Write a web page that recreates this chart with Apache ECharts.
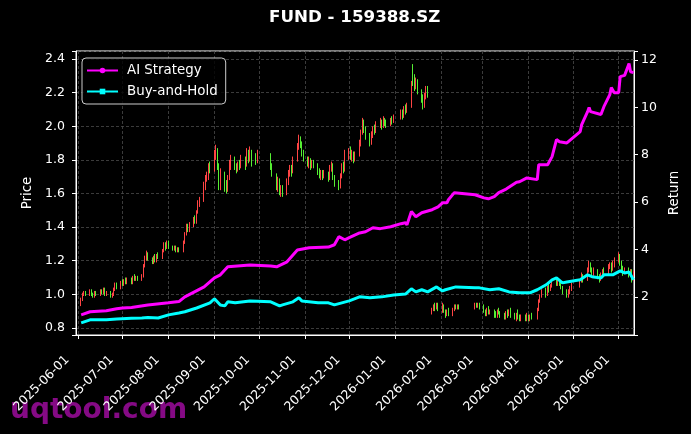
<!DOCTYPE html>
<html>
<head>
<meta charset="utf-8">
<script src="https://cdn.jsdelivr.net/npm/echarts@6/dist/echarts.min.js"></script>
<style>
html, body { margin: 0; padding: 0; background: #000; }
#main { width: 691px; height: 434px; }
</style>
</head>
<body>
<div id="main"></div>
<script>
// exchange holidays (weekdays without trading)
const holidays = ['2025-10-01','2025-10-02','2025-10-03','2025-10-06','2025-10-07','2025-10-08',
    '2026-01-01','2026-01-02','2026-02-16','2026-02-17','2026-02-18','2026-02-19','2026-02-20','2026-02-23',
    '2026-04-06','2026-05-01','2026-05-04','2026-05-05'];

// daily candles [open, close, low, high], one row per trading day
const candles = [
    // 2025-06
    [0.94,0.97,0.93,0.98],[0.97,1.00,0.96,1.01],[1.00,1.01,0.99,1.02],[1.01,1.00,0.99,1.02],
    [1.00,1.02,0.99,1.03],[1.02,1.00,0.99,1.03],[1.00,0.99,0.98,1.01],[0.99,1.01,0.98,1.02],[1.01,1.00,0.99,1.02],
    [1.00,1.02,0.99,1.03],[1.02,1.01,1.00,1.03],[1.01,1.03,1.00,1.04],[1.03,1.00,0.99,1.04],[1.00,1.01,0.99,1.02],
    [1.01,0.99,0.98,1.02],[0.99,1.00,0.98,1.01],[1.00,1.03,0.99,1.04],[1.03,1.05,1.02,1.07],[1.05,1.04,1.03,1.07],
    [1.04,1.07,1.03,1.08],
    // 2025-07
    [1.07,1.06,1.05,1.09],[1.06,1.08,1.05,1.09],[1.08,1.07,1.06,1.10],[1.07,1.09,1.06,1.10],
    [1.09,1.07,1.06,1.10],[1.07,1.10,1.06,1.11],[1.10,1.09,1.08,1.12],[1.09,1.10,1.08,1.11],[1.10,1.09,1.08,1.11],
    [1.09,1.11,1.08,1.12],[1.11,1.17,1.10,1.18],[1.17,1.22,1.16,1.23],[1.22,1.24,1.20,1.26],[1.24,1.21,1.20,1.25],
    [1.21,1.19,1.18,1.22],[1.19,1.22,1.18,1.23],[1.22,1.20,1.19,1.24],[1.20,1.23,1.19,1.24],[1.23,1.22,1.21,1.25],
    [1.22,1.26,1.21,1.27],[1.26,1.29,1.25,1.31],[1.29,1.28,1.26,1.31],[1.28,1.31,1.27,1.32],
    // 2025-08
    [1.31,1.28,1.27,1.32],
    [1.28,1.27,1.26,1.29],[1.27,1.28,1.26,1.29],[1.28,1.26,1.25,1.29],[1.26,1.27,1.25,1.28],[1.27,1.26,1.25,1.28],
    [1.26,1.31,1.25,1.32],[1.31,1.36,1.30,1.37],[1.36,1.40,1.35,1.42],[1.40,1.38,1.37,1.42],[1.38,1.41,1.37,1.43],
    [1.41,1.45,1.40,1.46],[1.45,1.43,1.42,1.47],[1.43,1.49,1.42,1.50],[1.49,1.53,1.48,1.56],[1.53,1.56,1.52,1.58],
    [1.56,1.65,1.55,1.67],[1.65,1.69,1.62,1.71],[1.69,1.70,1.67,1.73],[1.70,1.76,1.68,1.78],[1.76,1.74,1.72,1.79],
    // 2025-09
    [1.74,1.84,1.73,1.86],[1.84,1.86,1.80,1.89],[1.86,1.76,1.74,1.87],[1.76,1.66,1.62,1.78],[1.66,1.72,1.62,1.75],
    [1.72,1.64,1.61,1.73],[1.64,1.62,1.60,1.68],[1.62,1.69,1.61,1.71],[1.69,1.78,1.68,1.80],[1.78,1.81,1.74,1.83],
    [1.81,1.76,1.74,1.82],[1.76,1.74,1.72,1.78],[1.74,1.78,1.73,1.79],[1.78,1.76,1.74,1.80],[1.76,1.80,1.75,1.83],
    [1.80,1.77,1.74,1.82],[1.77,1.84,1.76,1.87],[1.84,1.80,1.78,1.86],[1.80,1.85,1.79,1.88],[1.85,1.81,1.76,1.86],
    [1.81,1.79,1.77,1.84],[1.79,1.83,1.78,1.86],
    // 2025-10
    [1.83,1.76,1.74,1.84],[1.76,1.71,1.70,1.78],
    [1.71,1.64,1.62,1.72],[1.64,1.68,1.61,1.70],[1.68,1.61,1.59,1.69],[1.61,1.63,1.58,1.65],[1.63,1.60,1.58,1.65],
    [1.60,1.67,1.59,1.69],[1.67,1.72,1.65,1.74],[1.72,1.75,1.70,1.77],[1.75,1.73,1.70,1.77],[1.73,1.80,1.72,1.82],
    [1.80,1.88,1.79,1.90],[1.88,1.92,1.86,1.95],[1.92,1.90,1.87,1.94],[1.90,1.84,1.82,1.91],[1.84,1.81,1.79,1.86],
    // 2025-11
    [1.81,1.78,1.76,1.82],[1.78,1.80,1.75,1.82],[1.80,1.76,1.74,1.81],[1.76,1.79,1.75,1.80],[1.79,1.77,1.75,1.80],
    [1.77,1.73,1.71,1.78],[1.73,1.71,1.69,1.75],[1.71,1.73,1.68,1.74],[1.73,1.70,1.68,1.74],[1.70,1.72,1.69,1.74],
    [1.72,1.69,1.67,1.73],[1.69,1.75,1.68,1.77],[1.75,1.77,1.73,1.79],[1.77,1.70,1.68,1.78],[1.70,1.66,1.64,1.71],
    [1.66,1.64,1.62,1.68],[1.64,1.70,1.63,1.72],[1.70,1.76,1.69,1.78],[1.76,1.74,1.72,1.79],[1.74,1.82,1.73,1.86],
    // 2025-12
    [1.82,1.85,1.80,1.87],[1.85,1.82,1.80,1.88],[1.82,1.84,1.79,1.86],[1.84,1.80,1.78,1.85],[1.80,1.83,1.79,1.85],
    [1.83,1.90,1.82,1.92],[1.90,1.96,1.88,1.98],[1.96,2.02,1.95,2.05],[2.02,1.98,1.96,2.04],[1.98,1.95,1.92,2.00],
    [1.95,1.91,1.88,1.96],[1.91,1.95,1.89,1.97],[1.95,1.99,1.93,2.00],[1.99,1.97,1.95,2.01],[1.97,2.01,1.96,2.03],
    [2.01,2.03,1.99,2.05],[2.03,2.00,1.98,2.04],[2.00,2.04,1.99,2.06],[2.04,2.02,2.00,2.05],[2.02,2.01,1.99,2.04],
    [2.01,2.04,2.00,2.05],[2.04,2.03,2.01,2.06],[2.03,2.05,2.02,2.07],
    // 2026-01
    [2.05,2.08,2.04,2.10],[2.08,2.06,2.04,2.10],[2.06,2.10,2.05,2.12],[2.10,2.09,2.07,2.13],[2.09,2.12,2.08,2.14],
    [2.12,2.25,2.11,2.27],[2.32,2.28,2.24,2.37],[2.28,2.24,2.21,2.31],[2.24,2.27,2.22,2.29],[2.27,2.21,2.19,2.28],
    [2.21,2.17,2.14,2.22],[2.17,2.13,2.10,2.19],[2.13,2.18,2.11,2.20],[2.18,2.22,2.16,2.24],[2.22,2.20,2.17,2.24],
    [0.89,0.91,0.88,0.92],[0.91,0.93,0.90,0.94],[0.93,0.92,0.90,0.95],[0.92,0.94,0.91,0.95],[0.94,0.91,0.90,0.95],
    // 2026-02
    [0.91,0.93,0.89,0.95],[0.93,0.90,0.89,0.94],[0.90,0.88,0.86,0.91],[0.88,0.90,0.87,0.91],[0.90,0.88,0.87,0.92],
    [0.88,0.91,0.87,0.92],[0.91,0.93,0.90,0.94],[0.93,0.92,0.91,0.94],[0.92,0.93,0.91,0.94],[0.93,0.92,0.91,0.94],
    [0.92,0.94,0.91,0.95],[0.94,0.93,0.92,0.95],[0.93,0.94,0.92,0.95],[0.94,0.92,0.91,0.95],
    // 2026-03
    [0.92,0.90,0.89,0.94],[0.90,0.88,0.87,0.91],[0.88,0.91,0.87,0.92],[0.91,0.89,0.88,0.93],[0.89,0.90,0.88,0.91],
    [0.90,0.88,0.86,0.91],[0.88,0.87,0.86,0.90],[0.87,0.90,0.86,0.91],[0.90,0.89,0.88,0.92],[0.89,0.87,0.86,0.90],
    [0.87,0.86,0.85,0.89],[0.86,0.89,0.85,0.90],[0.89,0.88,0.86,0.91],[0.88,0.90,0.87,0.91],[0.90,0.88,0.86,0.92],
    [0.88,0.86,0.85,0.89],[0.86,0.88,0.84,0.89],[0.88,0.86,0.85,0.91],[0.86,0.85,0.84,0.88],[0.85,0.87,0.84,0.88],
    [0.87,0.85,0.84,0.88],[0.85,0.86,0.84,0.89],
    // 2026-04
    [0.86,0.85,0.84,0.88],[0.85,0.87,0.84,0.88],[0.87,0.86,0.85,0.89],
    [0.86,0.91,0.85,0.92],[0.91,0.96,0.90,0.97],[0.96,0.99,0.95,1.00],[0.99,1.02,0.98,1.03],
    [1.02,1.00,0.98,1.04],[1.00,1.04,0.99,1.05],[1.04,1.03,1.01,1.06],[1.03,1.05,1.02,1.06],[1.05,1.08,1.04,1.09],
    [1.08,1.06,1.05,1.10],[1.06,1.08,1.05,1.10],[1.08,1.07,1.05,1.09],[1.07,1.04,1.03,1.08],[1.04,1.02,1.00,1.05],
    [1.02,0.99,0.98,1.03],[0.99,1.01,0.98,1.03],[1.01,1.03,1.00,1.05],[1.03,1.05,1.02,1.07],
    // 2026-05
    [1.05,1.08,1.04,1.09],[1.08,1.11,1.07,1.13],[1.11,1.09,1.07,1.12],
    [1.09,1.14,1.08,1.16],[1.14,1.18,1.13,1.20],[1.18,1.15,1.13,1.19],[1.15,1.12,1.10,1.16],[1.12,1.14,1.11,1.16],
    [1.14,1.11,1.09,1.15],[1.11,1.09,1.07,1.12],[1.09,1.12,1.08,1.13],[1.12,1.14,1.11,1.15],[1.14,1.13,1.11,1.16],
    [1.13,1.16,1.12,1.18],[1.16,1.18,1.15,1.19],[1.18,1.15,1.13,1.19],[1.15,1.18,1.14,1.20],[1.18,1.20,1.16,1.22],
    // 2026-06
    [1.20,1.23,1.19,1.25],[1.23,1.19,1.17,1.24],[1.19,1.16,1.14,1.20],[1.16,1.13,1.11,1.17],[1.13,1.15,1.12,1.16],
    [1.15,1.12,1.10,1.16],[1.12,1.14,1.11,1.15],[1.14,1.10,1.07,1.15],[1.10,1.12,1.08,1.14]
];

const aiStrategy = [
    ['2025-06-03',1.24],['2025-06-09',1.37],['2025-06-20',1.41],['2025-06-27',1.50],['2025-07-01',1.53],
    ['2025-07-07',1.55],['2025-07-18',1.66],['2025-08-01',1.75],['2025-08-08',1.80],['2025-08-12',2.00],
    ['2025-08-25',2.42],['2025-09-01',2.80],['2025-09-05',2.93],['2025-09-10',3.27],['2025-09-25',3.35],
    ['2025-10-09',3.30],['2025-10-13',3.27],['2025-10-20',3.48],['2025-10-27',3.98],['2025-11-04',4.07],
    ['2025-11-17',4.10],['2025-11-21',4.20],['2025-11-24',4.54],['2025-11-28',4.41],['2025-12-01',4.50],
    ['2025-12-08',4.70],['2025-12-12',4.75],['2025-12-17',4.92],['2025-12-22',4.88],['2025-12-29',4.96],
    ['2026-01-05',5.09],['2026-01-08',5.13],['2026-01-09',5.04],['2026-01-12',5.60],['2026-01-15',5.38],
    ['2026-01-19',5.55],['2026-01-26',5.68],['2026-01-30',5.80],['2026-02-02',5.97],['2026-02-05',5.97],
    ['2026-02-06',6.10],['2026-02-10',6.40],['2026-02-24',6.31],['2026-03-02',6.18],['2026-03-05',6.14],
    ['2026-03-09',6.23],['2026-03-12',6.40],['2026-03-17',6.55],['2026-03-24',6.84],['2026-03-26',6.86],
    ['2026-03-31',7.02],['2026-04-07',6.95],['2026-04-08',7.58],['2026-04-14',7.58],['2026-04-17',7.92],
    ['2026-04-20',8.64],['2026-04-22',8.55],['2026-04-27',8.50],['2026-05-06',8.98],['2026-05-07',9.27],
    ['2026-05-11',9.82],['2026-05-12',10.00],['2026-05-13',9.82],['2026-05-20',9.70],['2026-05-22',10.03],
    ['2026-05-26',10.54],['2026-05-27',10.84],['2026-05-29',10.62],['2026-06-01',10.62],['2026-06-02',11.30],
    ['2026-06-05',11.35],['2026-06-08',11.85],['2026-06-09',11.50],['2026-06-11',11.47]
];

const buyAndHold = [
    ['2025-06-03',0.90],['2025-06-09',1.03],['2025-06-20',1.03],['2025-06-27',1.07],['2025-07-07',1.10],
    ['2025-07-14',1.11],['2025-07-18',1.13],['2025-07-25',1.11],['2025-08-01',1.24],['2025-08-08',1.32],
    ['2025-08-12',1.37],['2025-08-20',1.53],['2025-08-29',1.75],['2025-09-01',1.92],['2025-09-05',1.66],
    ['2025-09-08',1.62],['2025-09-10',1.79],['2025-09-15',1.75],['2025-09-25',1.83],['2025-10-09',1.79],
    ['2025-10-15',1.62],['2025-10-17',1.66],['2025-10-24',1.79],['2025-10-28',1.96],['2025-10-30',1.83],
    ['2025-11-10',1.75],['2025-11-17',1.75],['2025-11-21',1.66],['2025-12-01',1.83],['2025-12-08',2.00],
    ['2025-12-15',1.96],['2025-12-23',2.00],['2025-12-31',2.08],['2026-01-08',2.12],['2026-01-09',2.04],
    ['2026-01-12',2.34],['2026-01-15',2.21],['2026-01-19',2.30],['2026-01-23',2.21],['2026-01-29',2.42],
    ['2026-02-02',2.25],['2026-02-04',2.30],['2026-02-11',2.42],['2026-02-24',2.38],['2026-02-27',2.38],
    ['2026-03-06',2.30],['2026-03-12',2.34],['2026-03-19',2.21],['2026-03-26',2.17],['2026-04-02',2.17],
    ['2026-04-07',2.30],['2026-04-08',2.38],['2026-04-13',2.51],['2026-04-17',2.72],['2026-04-20',2.80],
    ['2026-04-24',2.59],['2026-04-27',2.63],['2026-05-06',2.72],['2026-05-07',2.80],['2026-05-11',2.93],
    ['2026-05-14',2.85],['2026-05-20',2.80],['2026-05-22',2.93],['2026-05-28',2.93],['2026-06-02',3.10],
    ['2026-06-05',3.01],['2026-06-08',3.05],['2026-06-11',2.72]
];

const monthTicks = ['2025-06-01','2025-07-01','2025-08-01','2025-09-01','2025-10-01','2025-11-01','2025-12-01',
    '2026-01-01','2026-02-01','2026-03-01','2026-04-01','2026-05-01','2026-06-01'];

function ts(s) { return echarts.time.parse(s).getTime(); }

function tradingDays(from, to) {
    var out = [];
    var end = Date.parse(to + 'T00:00:00Z');
    for (var t = Date.parse(from + 'T00:00:00Z'); t <= end; t += 86400000) {
        var d = new Date(t), wd = d.getUTCDay(), s = d.toISOString().slice(0, 10);
        if (wd > 0 && wd < 6 && holidays.indexOf(s) < 0) out.push(s);
    }
    return out;
}

var dates = tradingDays('2025-06-03', '2026-06-11');
var candleData = dates.map(function (d, i) { return [ts(d)].concat(candles[i]); });
var aiData = aiStrategy.map(function (p) { return [ts(p[0]), p[1]]; });
var bhData = buyAndHold.map(function (p) { return [ts(p[0]), p[1]]; });
var tickValues = monthTicks.map(ts);

var font = 'DejaVu Sans';
var tickFont = 12.5;
var gridLine = { show: true, lineStyle: { color: '#4a4a4a', type: [3, 2], width: 0.8 } };

var chart = echarts.init(document.getElementById('main'));
var option = {
    backgroundColor: '#000',
    animation: false,
    title: {
        text: 'FUND - 159388.SZ',
        left: 269, top: 9, padding: 0,
        textStyle: { color: '#fff', fontSize: 16.7, fontWeight: 'bold', fontFamily: font }
    },
    legend: {
        orient: 'vertical',
        left: 82, top: 58,
        padding: [6, 8, 6, 4],
        itemWidth: 31, itemHeight: 7, itemGap: 8,
        backgroundColor: 'rgba(0,0,0,0.8)',
        borderColor: '#cccccc', borderWidth: 1, borderRadius: 4,
        textStyle: { color: '#fff', fontSize: 13.4, fontFamily: font, padding: [0, 0, 0, 4] },
        data: ['AI Strategy', 'Buy-and-Hold']
    },
    grid: {
        left: 76, right: 57, top: 51, bottom: 99,
        show: true, borderColor: '#fff', borderWidth: 1, backgroundColor: 'transparent'
    },
    xAxis: {
        type: 'value',
        min: ts('2025-05-30 12:00:00'),
        max: ts('2026-06-11 08:00:00'),
        axisLine: { lineStyle: { color: '#fff' } },
        axisTick: { customValues: tickValues, length: 4, lineStyle: { color: '#fff' } },
        axisLabel: {
            customValues: tickValues, rotate: 45, margin: 21, verticalAlign: 'bottom',
            padding: [0, 9, 0, 0],
            color: '#fff', fontSize: tickFont, fontFamily: font,
            formatter: function (v) { return echarts.time.format(v, '{yyyy}-{MM}-{dd}', false); }
        },
        splitLine: gridLine
    },
    yAxis: [{
        type: 'value', min: 0.758, max: 2.448, splitNumber: 8,
        name: 'Price', nameLocation: 'middle', nameGap: 36,
        nameTextStyle: { color: '#fff', fontSize: 13.4, fontFamily: font },
        axisLine: { show: true, lineStyle: { color: '#fff' } },
        axisTick: { show: true, length: 4, lineStyle: { color: '#fff' } },
        axisLabel: {
            color: '#fff', fontSize: tickFont, fontFamily: font, margin: 11,
            formatter: function (v) { return Math.abs(v * 5 - Math.round(v * 5)) < 1e-6 ? v.toFixed(1) : ''; }
        },
        splitLine: gridLine
    }, {
        type: 'value', min: 0.39, max: 12.38, splitNumber: 6, position: 'right',
        name: 'Return', nameLocation: 'middle', nameGap: 30,
        nameTextStyle: { color: '#fff', fontSize: 13.4, fontFamily: font },
        axisLine: { show: true, lineStyle: { color: '#fff' } },
        axisTick: { show: true, length: 4, lineStyle: { color: '#fff' } },
        axisLabel: {
            color: '#fff', fontSize: tickFont, fontFamily: font, margin: 7,
            formatter: function (v) { return Math.abs(v / 2 - Math.round(v / 2)) < 1e-6 ? String(Math.round(v)) : ''; }
        },
        splitLine: { show: false }
    }],
    graphic: [{
        type: 'text', left: 10, top: 397, z: -1,
        style: { text: 'uqtool.com', fill: '#850a85', font: 'bold 28px "DejaVu Sans"' }
    }],
    series: [{
        name: 'Price',
        type: 'candlestick',
        barWidth: 1,
        data: candleData,
        itemStyle: {
            color: '#ff4444', color0: '#55ee33',
            borderColor: '#ff4444', borderColor0: '#55ee33', borderWidth: 1
        }
    }, {
        name: 'AI Strategy',
        type: 'line',
        yAxisIndex: 1,
        data: aiData,
        symbol: 'circle', showSymbol: false,
        lineStyle: { color: '#ff00ff', width: 3 },
        itemStyle: { color: '#ff00ff' },
        z: 3
    }, {
        name: 'Buy-and-Hold',
        type: 'line',
        yAxisIndex: 1,
        data: bhData,
        symbol: 'rect', showSymbol: false,
        lineStyle: { color: '#00ffff', width: 3 },
        itemStyle: { color: '#00ffff' },
        z: 3
    }]
};
chart.setOption(option);
</script>
</body>
</html>
